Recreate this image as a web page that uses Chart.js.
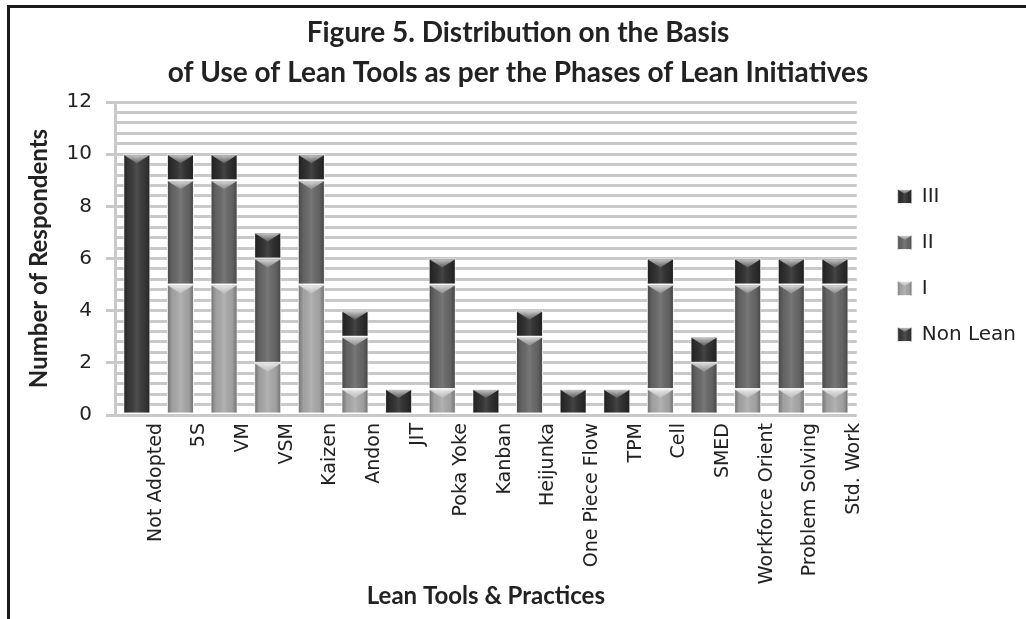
<!DOCTYPE html>
<html>
<head>
<meta charset="utf-8">
<script src="https://cdn.jsdelivr.net/npm/chart.js@4.4.1/dist/chart.umd.min.js"></script>
<style>
  html, body { margin: 0; padding: 0; background: #fff; overflow: hidden; }
  #wrap { position: relative; width: 1026px; height: 619px; }
  #frame {
    position: absolute; left: 7px; top: 5px; right: -10px; bottom: -10px;
    border-top: 3px solid #1b1b1b; border-left: 3px solid #1b1b1b;
    pointer-events: none;
  }
</style>
</head>
<body>
<div id="wrap">
  <canvas id="chart" width="1026" height="619"></canvas>
  <div id="frame"></div>
</div>
<script>
// Lean tools and practices, and respondents per phase of the lean initiative
const categories = ['Not Adopted', '5S', 'VM', 'VSM', 'Kaizen', 'Andon', 'JIT', 'Poka Yoke',
  'Kanban', 'Heijunka', 'One Piece Flow', 'TPM', 'Cell', 'SMED', 'Workforce Orient',
  'Problem Solving', 'Std. Work'];
const nonLean   = [10, 0, 0, 0, 0, 0, 0, 0, 0, 0, 0, 0, 0, 0, 0, 0, 0];
const phaseI    = [0, 5, 5, 2, 5, 1, 0, 1, 0, 0, 0, 0, 1, 0, 1, 1, 1];
const phaseII   = [0, 4, 4, 4, 4, 2, 0, 4, 0, 3, 0, 0, 4, 2, 4, 4, 4];
const phaseIII  = [0, 1, 1, 1, 1, 1, 1, 1, 1, 1, 1, 1, 1, 1, 1, 1, 1];
const yTickLabels = [0, 2, 4, 6, 8, 10, 12];

const titleLines = ['Figure 5. Distribution on the Basis',
  'of Use of Lean Tools as per the Phases of Lean Initiatives'];

const seriesDefs = [
  { label: 'Non Lean', values: nonLean,  color: '#3a3a3a' },
  { label: 'I',        values: phaseI,   color: '#a9a9a9' },
  { label: 'II',       values: phaseII,  color: '#686868' },
  { label: 'III',      values: phaseIII, color: '#2f2f2f' }
];

const sansFont = 'DejaVu Sans';
const boldFont = 'Lato';

// Shading for one bevelled box: darker edges and a pointed highlight on top
function drawBevel(ctx, left, top, right, bottom, cx) {
  const hg = ctx.createLinearGradient(left, 0, right, 0);
  hg.addColorStop(0, 'rgba(0,0,0,0.30)');
  hg.addColorStop(0.18, 'rgba(0,0,0,0.05)');
  hg.addColorStop(0.5, 'rgba(255,255,255,0.10)');
  hg.addColorStop(0.82, 'rgba(0,0,0,0.05)');
  hg.addColorStop(1, 'rgba(0,0,0,0.30)');
  ctx.fillStyle = hg;
  ctx.fillRect(left, top, right - left, bottom - top);
  const h = Math.min((right - left) * 0.32, (bottom - top) * 0.6);
  const vg = ctx.createLinearGradient(0, top, 0, top + h);
  vg.addColorStop(0, 'rgba(255,255,255,0.70)');
  vg.addColorStop(1, 'rgba(255,255,255,0.15)');
  ctx.fillStyle = vg;
  ctx.beginPath();
  ctx.moveTo(left, top);
  ctx.lineTo(right, top);
  ctx.lineTo(cx, top + h);
  ctx.closePath();
  ctx.fill();
}

const bevelPlugin = {
  id: 'bevel',
  afterDatasetsDraw(chart) {
    const ctx = chart.ctx;
    chart.data.datasets.forEach((ds, di) => {
      const meta = chart.getDatasetMeta(di);
      if (meta.hidden) return;
      meta.data.forEach((el) => {
        const p = el.getProps(['x', 'y', 'base', 'width'], true);
        if (p.y == null || isNaN(p.y)) return;
        const top = Math.min(p.y, p.base) + 1;
        const bottom = Math.max(p.y, p.base) - 1;
        if (bottom - top < 2) return;
        ctx.save();
        drawBevel(ctx, p.x - p.width / 2 + 1, top, p.x + p.width / 2 - 1, bottom, p.x);
        ctx.restore();
      });
    });
  },
  afterDraw(chart) {
    // same shading on the legend swatches
    const lg = chart.legend;
    if (!lg || !lg.legendHitBoxes) return;
    const ctx = chart.ctx;
    const bw = lg.options.labels.boxWidth, bh = lg.options.labels.boxHeight;
    lg.legendHitBoxes.forEach((hb) => {
      const top = hb.top + (hb.height - bh) / 2;
      ctx.save();
      drawBevel(ctx, hb.left, top, hb.left + bw, top + bh, hb.left + bw / 2);
      ctx.restore();
    });
  }
};

new Chart(document.getElementById('chart'), {
  type: 'bar',
  data: {
    labels: categories,
    datasets: seriesDefs.map(s => ({
      label: s.label,
      data: s.values.map(v => (v === 0 ? null : v)),
      backgroundColor: s.color,
      borderColor: '#f2f2f2',
      borderWidth: 1,
      borderSkipped: false,
      barPercentage: 0.62,
      categoryPercentage: 1.0
    }))
  },
  options: {
    responsive: false,
    animation: false,
    layout: { padding: { left: 10, right: 0, top: 0, bottom: 0 } },
    plugins: {
      title: {
        display: true,
        text: titleLines,
        color: '#222',
        font: { family: boldFont, size: 28, weight: 'bold', lineHeight: 40 / 28 },
        padding: { top: 13, bottom: 9 }
      },
      legend: {
        position: 'right',
        fullSize: false,
        reverse: true,
        title: { display: true, text: '', font: { size: 10 }, padding: 1 },
        labels: {
          color: '#222',
          font: { family: sansFont, size: 20 },
          boxWidth: 14,
          boxHeight: 14,
          padding: 26
        }
      },
      tooltip: { enabled: false }
    },
    scales: {
      x: {
        stacked: true,
        grid: { display: false, drawTicks: false },
        border: { display: false },
        ticks: {
          color: '#222',
          font: { family: sansFont, size: 19 },
          minRotation: 90,
          maxRotation: 90,
          autoSkip: false,
          padding: 8,
          labelOffset: 19
        },
        title: {
          display: true,
          text: 'Lean Tools & Practices',
          color: '#222',
          font: { family: boldFont, size: 24, weight: 'bold' },
          padding: { top: 0, bottom: 8 }
        },
        afterFit(scale) { scale.height = 204; }
      },
      y: {
        stacked: true,
        min: 0,
        max: 12,
        grid: {
          color: '#c9c9c9',
          lineWidth: 3,
          drawTicks: true,
          tickLength: 9,
          tickColor: (c) => (yTickLabels.includes(c.tick && c.tick.value) ? '#c9c9c9' : 'rgba(0,0,0,0)')
        },
        border: { display: true, color: '#c9c9c9', width: 3 },
        ticks: {
          stepSize: 0.4,
          maxTicksLimit: 60,
          autoSkip: false,
          color: '#222',
          font: { family: sansFont, size: 20 },
          padding: 14,
          callback: (v) => (yTickLabels.includes(v) ? String(v) : '')
        },
        title: {
          display: true,
          text: 'Number of Respondents',
          color: '#222',
          font: { family: boldFont, size: 24, weight: 'bold' },
          padding: { top: 15, bottom: 0 }
        },
        afterFit(scale) { scale.width = 105; }
      },
      yPad: {
        position: 'right',
        display: true,
        grid: { display: false },
        border: { display: false },
        ticks: { display: false },
        afterFit(scale) { scale.width = 15; }
      }
    }
  },
  plugins: [bevelPlugin]
});
</script>
</body>
</html>
